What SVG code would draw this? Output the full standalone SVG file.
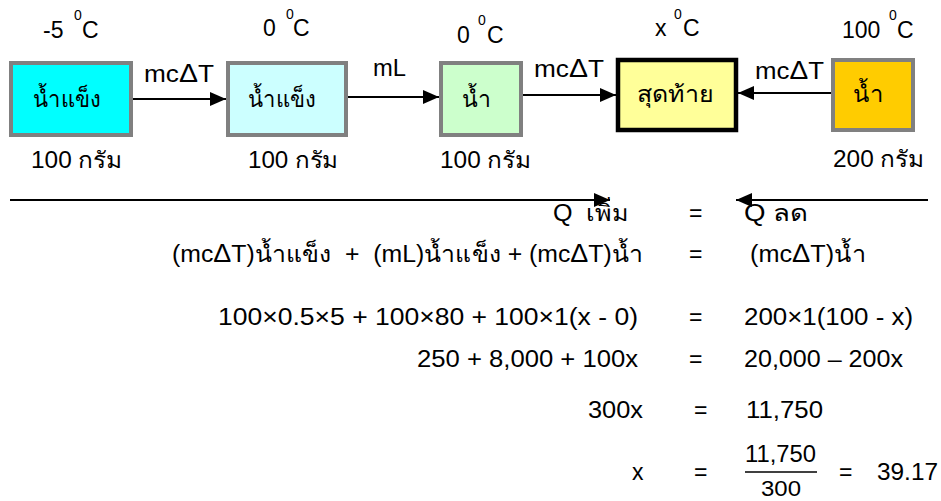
<svg xmlns="http://www.w3.org/2000/svg" width="941" height="501" viewBox="0 0 941 501">
<defs>
<marker id="ah" markerUnits="userSpaceOnUse" markerWidth="16" markerHeight="14" refX="16" refY="7" orient="auto">
<path d="M0,0 L16,7 L0,14 Z" fill="#000"/>
</marker>
<style>
text{font-family:"Liberation Sans","Noto Sans","DejaVu Sans",sans-serif;font-size:23px;fill:#000;white-space:pre}
.sup{font-size:14px}
.d{font-size:25px}
.box{stroke:#808080;stroke-width:4}
.fin{stroke:#000;stroke-width:4.5}
.conn{stroke:#000;stroke-width:2;fill:none;marker-end:url(#ah)}
</style>
</defs>
<rect width="941" height="501" fill="#fff"/>
<g id="connectors">
<line class="conn" x1="133" y1="99" x2="226" y2="99"/>
<line class="conn" x1="348" y1="97" x2="439" y2="97"/>
<line class="conn" x1="523" y1="95" x2="616" y2="95"/>
<line class="conn" x1="831" y1="93" x2="738" y2="93"/>
<line class="conn" x1="10" y1="200" x2="610" y2="200"/>
<line class="conn" x1="928" y1="200" x2="736" y2="200"/>
<text x="144" y="82" textLength="70" lengthAdjust="spacingAndGlyphs">mc<tspan class="d">Δ</tspan>T</text>
<text x="373" y="76" textLength="33" lengthAdjust="spacingAndGlyphs">mL</text>
<text x="534" y="77" textLength="70" lengthAdjust="spacingAndGlyphs">mc<tspan class="d">Δ</tspan>T</text>
<text x="755" y="79" textLength="69" lengthAdjust="spacingAndGlyphs">mc<tspan class="d">Δ</tspan>T</text>
</g>
<g id="node-ice-5">
<rect class="box" x="11" y="63" width="120" height="72" fill="#00FFFF"/>
<text x="33" y="107" textLength="68" lengthAdjust="spacingAndGlyphs">น้ำแข็ง</text>
<text x="43" y="38">-5<tspan class="sup" x="74" y="20">0</tspan><tspan x="82" y="38">C</tspan></text>
<text x="31" y="168" textLength="91" lengthAdjust="spacingAndGlyphs">100 กรัม</text>
</g>
<g id="node-ice-0">
<rect class="box" x="228" y="63" width="118" height="72" fill="#CCFFFF"/>
<text x="248" y="107" textLength="68" lengthAdjust="spacingAndGlyphs">น้ำแข็ง</text>
<text x="263" y="36">0<tspan class="sup" x="286" y="19">0</tspan><tspan x="293" y="36">C</tspan></text>
<text x="248" y="168" textLength="90" lengthAdjust="spacingAndGlyphs">100 กรัม</text>
</g>
<g id="node-water-0">
<rect class="box" x="441" y="63" width="80" height="72" fill="#CCFFCC"/>
<text x="462" y="107" textLength="29" lengthAdjust="spacingAndGlyphs">น้ำ</text>
<text x="457" y="43">0<tspan class="sup" x="478" y="25">0</tspan><tspan x="487" y="43">C</tspan></text>
<text x="440" y="168" textLength="91" lengthAdjust="spacingAndGlyphs">100 กรัม</text>
</g>
<g id="node-final">
<rect class="fin" x="618" y="60" width="118" height="70" fill="#FFFF99"/>
<text x="637" y="102" textLength="76" lengthAdjust="spacingAndGlyphs">สุดท้าย</text>
<text x="655" y="36">x<tspan class="sup" x="674" y="19">0</tspan><tspan x="683" y="36">C</tspan></text>
</g>
<g id="node-water-100">
<rect class="box" x="833" y="60" width="80" height="70" fill="#FFCC00"/>
<text x="853" y="102" textLength="30" lengthAdjust="spacingAndGlyphs">น้ำ</text>
<text x="842" y="38">100<tspan class="sup" x="889" y="20">0</tspan><tspan x="897" y="38">C</tspan></text>
<text x="833" y="167" textLength="91" lengthAdjust="spacingAndGlyphs">200 กรัม</text>
</g>
<g id="equations">
<text x="553" y="221" textLength="75" lengthAdjust="spacingAndGlyphs">Q  เพิ่ม</text>
<text x="689" y="221">=</text>
<text x="744" y="221" textLength="64" lengthAdjust="spacingAndGlyphs">Q ลด</text>
<text x="172" y="262" textLength="471" lengthAdjust="spacingAndGlyphs">(mc<tspan class="d">Δ</tspan>T)น้ำแข็ง  +  (mL)น้ำแข็ง + (mc<tspan class="d">Δ</tspan>T)น้ำ</text>
<text x="689" y="262">=</text>
<text x="750" y="262" textLength="116" lengthAdjust="spacingAndGlyphs">(mc<tspan class="d">Δ</tspan>T)น้ำ</text>
<text x="218" y="325" textLength="420" lengthAdjust="spacingAndGlyphs">100×0.5×5 + 100×80 + 100×1(x - 0)</text>
<text x="689" y="325">=</text>
<text x="744" y="325" textLength="169" lengthAdjust="spacingAndGlyphs">200×1(100 - x)</text>
<text x="417" y="367" textLength="221" lengthAdjust="spacingAndGlyphs">250 + 8,000 + 100x</text>
<text x="689" y="367">=</text>
<text x="744" y="367" textLength="159" lengthAdjust="spacingAndGlyphs">20,000 – 200x</text>
<text x="588" y="418" textLength="55" lengthAdjust="spacingAndGlyphs">300x</text>
<text x="694" y="418">=</text>
<text x="746" y="418" textLength="77" lengthAdjust="spacingAndGlyphs">11,750</text>
<text x="632" y="480">x</text>
<text x="694" y="480">=</text>
<text x="745" y="462" textLength="71" lengthAdjust="spacingAndGlyphs">11,750</text>
<line x1="745" y1="472" x2="817" y2="472" stroke="#000" stroke-width="1.5"/>
<text x="761" y="496" textLength="40" lengthAdjust="spacingAndGlyphs" style="font-size:22px">300</text>
<text x="839" y="480">=</text>
<text x="877" y="480" textLength="61" lengthAdjust="spacingAndGlyphs">39.17</text>
</g>
</svg>
